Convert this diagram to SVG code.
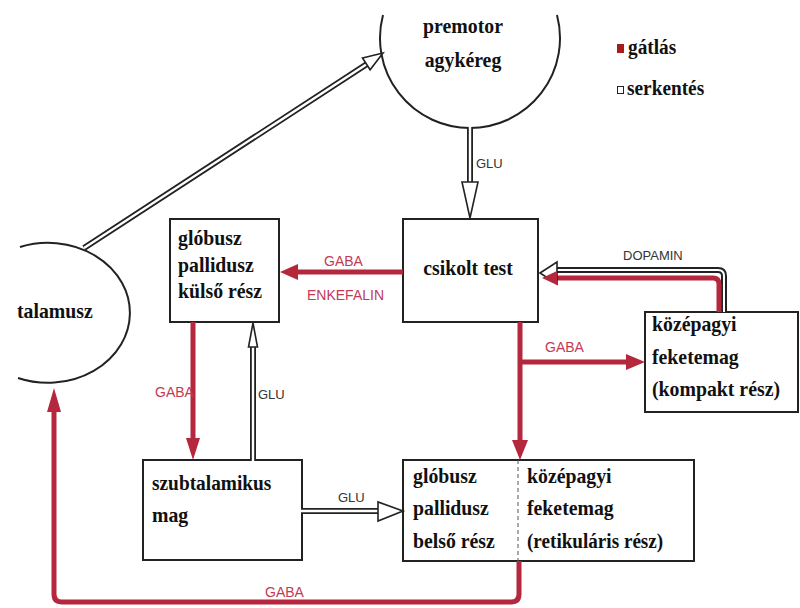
<svg xmlns="http://www.w3.org/2000/svg" width="800" height="608" viewBox="0 0 800 608">
<defs>
<style>
.box{fill:#fff;stroke:#222;stroke-width:2}
.shape{fill:none;stroke:#222;stroke-width:2}
.nt{font-family:'Liberation Serif','Times New Roman',serif;font-weight:bold;font-size:22px;fill:#111}
.lg{font-family:'Liberation Serif','Times New Roman',serif;font-weight:bold;font-size:21px;fill:#111}
.lb{font-family:'Liberation Sans',Arial,sans-serif;font-size:13px;fill:#333}
.lr{font-family:'Liberation Sans',Arial,sans-serif;font-size:14px;fill:#c23a55}
.red{fill:none;stroke:#b5273d;stroke-width:5;stroke-linejoin:round}
.redhead{fill:#b5273d;stroke:none}
.dbl-o{fill:none;stroke:#222;stroke-width:6}
.dbl-i{fill:none;stroke:#fff;stroke-width:2.4}
.hollow{fill:#fff;stroke:#222;stroke-width:1.6;stroke-linejoin:miter}
</style>
</defs>
<rect width="800" height="608" fill="#fff"/>

<g id="premotor">
<path class="shape" d="M383,15 A90,90 0 1 0 557,15"/>
<text class="nt" transform="translate(463,33) scale(0.9,1)" text-anchor="middle">premotor</text>
<text class="nt" transform="translate(463,67) scale(0.9,1)" text-anchor="middle">agykéreg</text>
</g>

<g id="talamusz">
<path class="shape" d="M20,247 A82,70 0 1 1 18,378"/>
<text class="nt" transform="translate(17,318) scale(0.9,1)">talamusz</text>
</g>

<g id="globusz-kulso">
<rect class="box" x="170" y="219" width="109" height="103"/>
<text class="nt" transform="translate(178,245) scale(0.9,1)">glóbusz</text>
<text class="nt" transform="translate(178,272) scale(0.9,1)">pallidusz</text>
<text class="nt" transform="translate(178,298) scale(0.9,1)">külső rész</text>
</g>

<g id="csikolt-test">
<rect class="box" x="403" y="219" width="135" height="103"/>
<text class="nt" transform="translate(468,275) scale(0.9,1)" text-anchor="middle">csikolt test</text>
</g>

<g id="kompakt">
<rect class="box" x="645" y="312" width="153" height="100"/>
<text class="nt" transform="translate(652,331) scale(0.9,1)">középagyi</text>
<text class="nt" transform="translate(652,364) scale(0.9,1)">feketemag</text>
<text class="nt" transform="translate(652,396) scale(0.9,1)">(kompakt rész)</text>
</g>

<g id="szubtalamikus">
<rect class="box" x="143" y="460" width="159" height="100"/>
<text class="nt" transform="translate(152,490) scale(0.88,1)">szubtalamikus</text>
<text class="nt" transform="translate(152,522) scale(0.9,1)">mag</text>
</g>

<g id="globusz-belso">
<rect class="box" x="403" y="460" width="291" height="101"/>
<line x1="518" y1="460" x2="518" y2="561" stroke="#555" stroke-width="1" stroke-dasharray="4,3"/>
<text class="nt" transform="translate(413,483) scale(0.9,1)">glóbusz</text>
<text class="nt" transform="translate(413,515) scale(0.9,1)">pallidusz</text>
<text class="nt" transform="translate(413,548) scale(0.9,1)">belső rész</text>
<text class="nt" transform="translate(527,483) scale(0.9,1)">középagyi</text>
<text class="nt" transform="translate(527,515) scale(0.9,1)">feketemag</text>
<text class="nt" transform="translate(527,548) scale(0.87,1)">(retikuláris rész)</text>
</g>

<g id="legend">
<rect x="617" y="44" width="7" height="9" fill="#a51c1c"/>
<text class="lg" transform="translate(628,54) scale(0.92,1)">gátlás</text>
<rect x="617.5" y="86.5" width="6" height="7" fill="#fff" stroke="#222" stroke-width="1"/>
<text class="lg" transform="translate(627,95) scale(0.92,1)">serkentés</text>
</g>

<g id="connectors">
<line class="dbl-o" x1="84" y1="248" x2="367" y2="64"/>
<line class="dbl-i" x1="84" y1="248" x2="367" y2="64"/>
<polygon class="hollow" points="383,53 370.1,69.8 362.5,58"/>

<line class="dbl-o" x1="470" y1="127" x2="470" y2="186"/>
<line class="dbl-i" x1="470" y1="126" x2="470" y2="186"/>
<polygon class="hollow" points="470,218 462,182 478,182"/>
<text class="lb" x="476" y="168">GLU</text>

<line class="red" x1="403" y1="272" x2="296" y2="272"/>
<polygon class="redhead" points="280,272 298,264 298,280"/>
<text class="lr" x="324" y="266">GABA</text>
<text class="lr" x="307" y="300">ENKEFALIN</text>

<path class="dbl-o" d="M724,312 V276 Q724,270 718,270 H556" stroke-width="4"/>
<path fill="none" stroke="#fff" stroke-width="2" d="M724,312 V276 Q724,270 718,270 H556"/>
<path class="red" d="M719,312 V284 Q719,278 713,278 H556"/>
<polygon class="hollow" points="540,273 557,262 557,284"/>
<polygon class="redhead" points="542,278 557,271 557,285"/>
<text class="lb" x="623" y="260">DOPAMIN</text>

<line class="red" x1="520" y1="322" x2="520" y2="442"/>
<polygon class="redhead" points="520,460 512,440 528,440"/>
<line class="red" x1="520" y1="362" x2="628" y2="362"/>
<polygon class="redhead" points="645,362 626,354 626,370"/>
<text class="lr" x="545" y="352">GABA</text>

<path class="red" stroke-width="4" d="M519,561 V594 Q519,602 511,602 H62 Q54,602 54,594 V408"/>
<polygon class="redhead" points="54,388 47,412 61,412"/>
<text class="lr" x="265" y="597">GABA</text>

<line class="red" x1="193" y1="322" x2="193" y2="442"/>
<polygon class="redhead" points="193,460 186,438 200,438"/>
<text class="lr" x="155" y="397">GABA</text>

<line class="dbl-o" x1="253" y1="460" x2="253" y2="345" stroke-width="5"/>
<line class="dbl-i" x1="253" y1="461" x2="253" y2="345" stroke-width="1.6"/>
<polygon class="hollow" points="253,323 248.5,347 257.5,347"/>
<text class="lb" x="258" y="399">GLU</text>

<line class="dbl-o" x1="302" y1="511" x2="380" y2="511" stroke-width="7"/>
<line class="dbl-i" x1="301" y1="511" x2="380" y2="511" stroke-width="3"/>
<polygon class="hollow" points="403,511 378,502 378,521"/>
<text class="lb" x="338" y="502">GLU</text>
</g>
</svg>
